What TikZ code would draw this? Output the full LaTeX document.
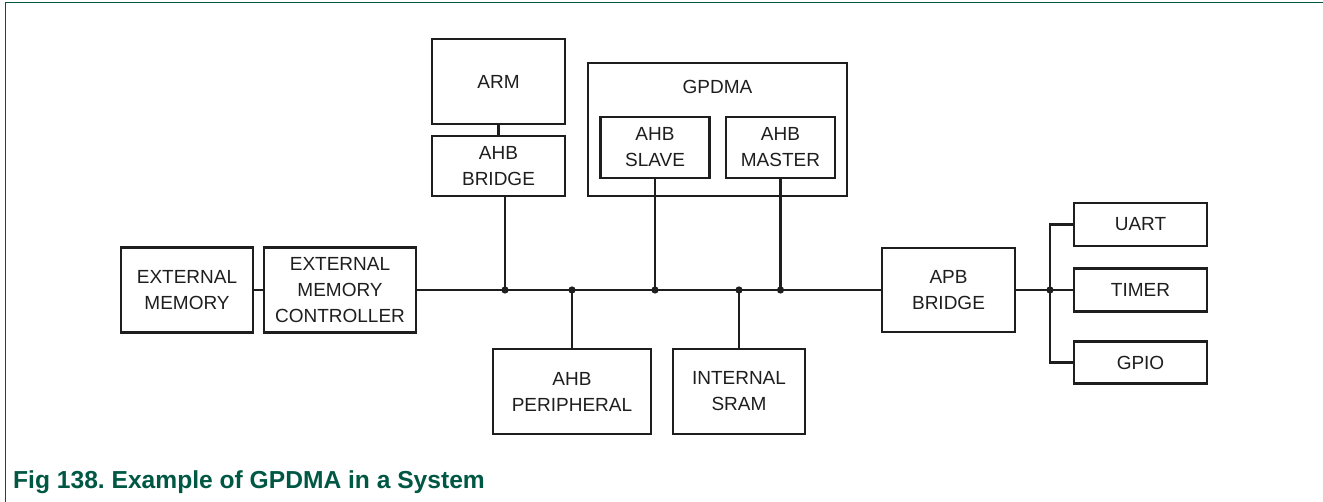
\documentclass[tikz,border=0pt]{standalone}
\usepackage{fontspec}
\setmainfont{Liberation Sans}
\frenchspacing
\definecolor{nxpgreen}{RGB}{0,88,68}
\definecolor{ink}{RGB}{30,30,30}
\tikzset{
  blk/.style={draw=ink, line width=2.2pt, rectangle, inner sep=0pt, outer sep=0pt, align=center,
    text=ink, font=\fontsize{19}{26}\selectfont},
  wire/.style={draw=ink, line width=2.2pt},
  jdot/.style={fill=ink}
}
\begin{document}
\begin{tikzpicture}[x=1pt,y=-1pt]
\useasboundingbox (0,0) rectangle (1323,502);
% frame
\draw[nxpgreen, line width=1.5pt] (5.3,502) -- (5.3,2.7) -- (1323,2.7);
% blocks
\node[blk, minimum width=132pt, minimum height=85pt] (extmem) at (187,290) {EXTERNAL\\MEMORY};
\node[blk, minimum width=152pt, minimum height=85pt] (emc) at (340,290) {EXTERNAL\\MEMORY\\CONTROLLER};
\node[blk, minimum width=133pt, minimum height=85pt] (arm) at (498.5,81.5) {ARM};
\node[blk, minimum width=133pt, minimum height=60pt] (ahbbr) at (498.5,166) {AHB\\BRIDGE};
\node[blk, minimum width=259pt, minimum height=133pt] (gpdma) at (717.5,129.5) {};
\node[text=ink, font=\fontsize{19}{26}\selectfont] (gpdmalbl) at (717.5,87) {GPDMA};
\node[blk, minimum width=109pt, minimum height=61pt] (slave) at (655,147.5) {AHB\\SLAVE};
\node[blk, minimum width=109pt, minimum height=61pt] (master) at (780.5,147.5) {AHB\\MASTER};
\node[blk, minimum width=158pt, minimum height=85pt] (periph) at (572,391.5) {AHB\\PERIPHERAL};
\node[blk, minimum width=132pt, minimum height=85pt] (sram) at (739,391.5) {INTERNAL\\SRAM};
\node[blk, minimum width=133pt, minimum height=84pt] (apb) at (948.5,290) {APB\\BRIDGE};
\node[blk, minimum width=133pt, minimum height=43pt] (uart) at (1140.5,224.5) {UART};
\node[blk, minimum width=133pt, minimum height=43pt] (timer) at (1140.5,290) {TIMER};
\node[blk, minimum width=133pt, minimum height=42pt] (gpio) at (1140.5,362.5) {GPIO};
% junctions
\coordinate (j1) at (505,290);
\coordinate (j2) at (572,290);
\coordinate (j3) at (655,290);
\coordinate (j4) at (739,290);
\coordinate (j5) at (780.5,290);
\coordinate (jr) at (1050,290);
% wires
\draw[wire] (extmem.east) -- (emc.west);
\draw[wire] (emc.east) -- (apb.west);
\draw[wire] (arm.south) -- (ahbbr.north);
\draw[wire] (j1 |- ahbbr.south) -- (j1);
\draw[wire] (slave.south) -- (j3);
\draw[wire] (master.south) -- (j5);
\draw[wire] (j2) -- (periph.north);
\draw[wire] (j4) -- (sram.north);
\draw[wire] (apb.east) -- (timer.west);
\draw[wire] (uart.west) -- (uart.west -| jr) -- (gpio.west -| jr) -- (gpio.west);
% dots
\foreach \j in {j1,j2,j3,j4,j5,jr} \fill[jdot] (\j) circle (3.6pt);
% caption
\node[anchor=base west, inner sep=0pt, text=nxpgreen, font=\fontsize{24.6}{28}\selectfont\bfseries] (cap) at (13,489) {Fig 138. Example of GPDMA in a System};
\end{tikzpicture}
\end{document}
